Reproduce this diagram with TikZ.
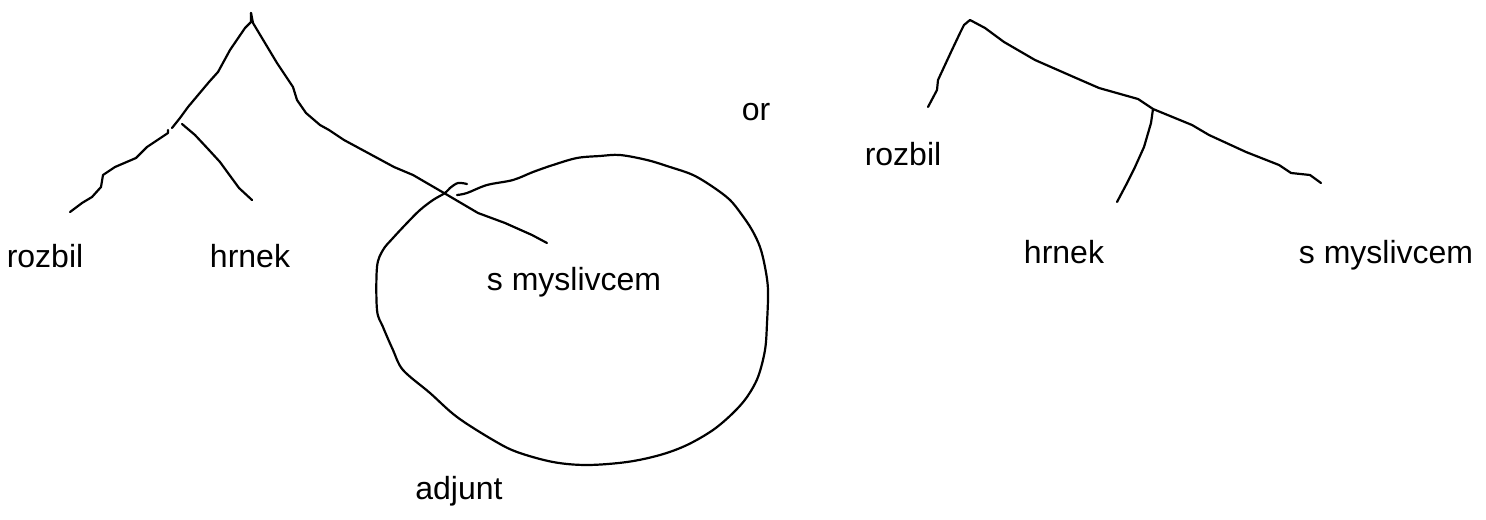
\documentclass[tikz,border=0pt]{standalone}
\usepackage{fontspec}
\setmainfont{Liberation Sans}
\usepackage{tikz}

\begin{document}
\begin{tikzpicture}[
		x=0.5pt, y=-0.5pt,
		pen/.style={line width=1.1pt, line join=round, line cap=round},
		word/.style={anchor=base, inner sep=0pt, font=\fontsize{16}{19}\selectfont}
	]
	\useasboundingbox (0,0) rectangle (1486,519);
	
	% left tree
	\coordinate (ltop) at (251,13);
	\coordinate (lsplit) at (172,128);
	\coordinate (lrozbil) at (70,212);
	\coordinate (lhrnek) at (252,200);
	\coordinate (lsmysl) at (547,243);
	
	\draw[pen]
		(ltop) -- (251,22) -- (245,28) -- (230,50) -- (218,72) -- (209,82)
		-- (188,107) -- (180,118) -- (lsplit);
	
	\draw[pen]
		(168,130) -- (168,133) -- (147,147) -- (136,158) -- (115,167)
		-- (103,175) -- (101,187) -- (92,197) -- (82,203) -- (lrozbil);
	
	\draw[pen]
		(182,124) -- (195,135) -- (209,150) -- (220,162) -- (228,173)
		-- (239,188) -- (lhrnek);
	
	\draw[pen]
		(ltop) -- (253,23) -- (262,38) -- (277,63) -- (293,87) -- (297,100)
		-- (306,113) -- (320,125) -- (329,130) -- (344,140) -- (394,167)
		-- (413,175) -- (444,193) -- (478,213) -- (505,223) -- (532,235)
		-- (lsmysl);
	
	% the adjunct loop
	\draw[pen]
		plot[smooth, tension=0.55] coordinates {
			(457,195) (467,193) (487,185) (513,180) (533,172) (553,165)
			(577,158) (600,156) (620,155) (647,160) (670,167) (693,175)
			(713,187) (730,200) (742,215) (752,230) (760,247) (765,267)
			(768,290) (767,323) (765,350) (758,377) (747,397) (733,413)
			(713,430) (687,445) (660,455) (627,462) (587,465) (553,462)
			(517,452) (493,440) (457,417) (430,393) (403,370) (393,350)
			(383,327) (377,310) (377,267) (383,250) (393,238) (407,223)
			(420,210) (433,200) (445,193) (450,188) (458,183) (467,184)
		};
	
	\node[word] (rozbilA) at (45,267) {rozbil};
	\node[word] (hrnekA) at (250,267) {hrnek};
	\node[word] (smyslA) at (574,290) {s myslivcem};
	\node[word] (adjunt) at (459,499) {adjunt};
	
	\node[word] (or) at (756,120) {or};
	
	% right tree
	\coordinate (rtop) at (970,20);
	\coordinate (rsplit) at (1153,109);
	\coordinate (rrozbil) at (928,107);
	\coordinate (rhrnek) at (1117,202);
	\coordinate (rsmysl) at (1321,183);
	
	\draw[pen]
		(rtop) -- (964,25) -- (960,33) -- (951,52) -- (938,80) -- (937,90)
		-- (rrozbil);
	
	\draw[pen]
		(rtop) -- (985,28) -- (1004,42) -- (1035,60) -- (1076,78) -- (1099,88)
		-- (1138,99) -- (rsplit) -- (1192,125) -- (1209,135) -- (1246,152)
		-- (1279,165) -- (1291,173) -- (1310,175) -- (rsmysl);
	
	\draw[pen]
		(rsplit) -- (1151,123) -- (1144,147) -- (1135,167) -- (1126,185)
		-- (rhrnek);
	
	\node[word] (rozbilB) at (903,165) {rozbil};
	\node[word] (hrnekB) at (1064,263) {hrnek};
	\node[word] (smyslB) at (1386,263) {s myslivcem};
\end{tikzpicture}
\end{document}
